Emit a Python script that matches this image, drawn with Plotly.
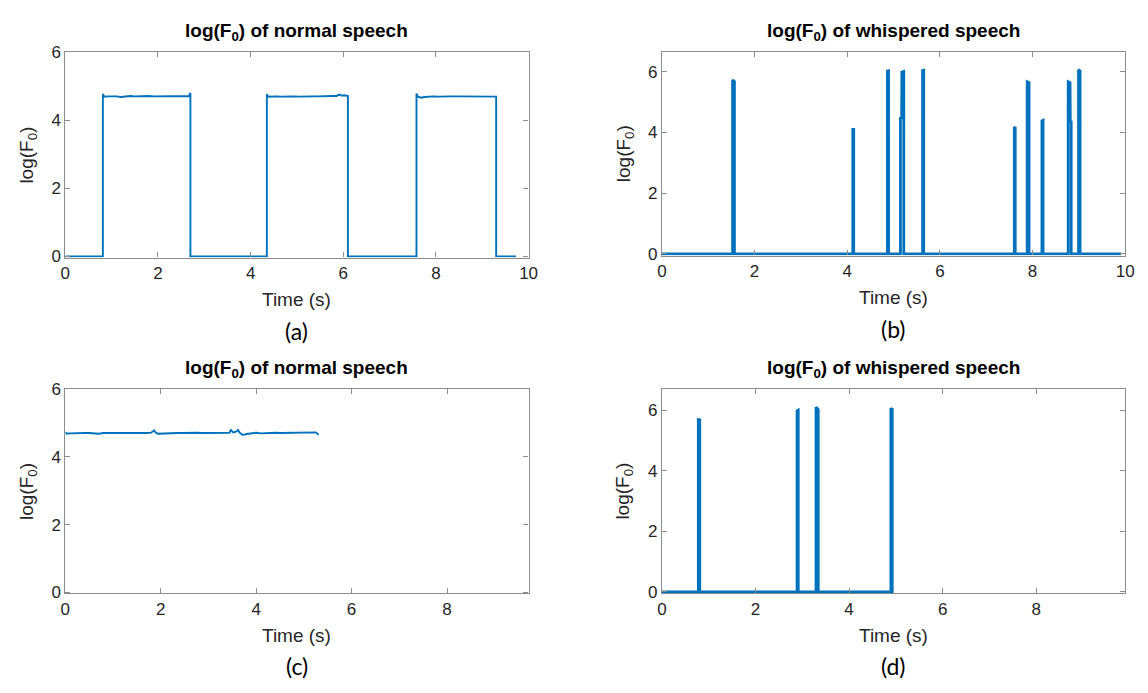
import plotly.graph_objects as go

# ---------------- data ----------------
# (a) normal speech, voiced segments
a_seg1_t = [0.81, 0.84, 0.90, 1.00, 1.10, 1.20, 1.30, 1.40, 1.50, 1.60, 1.70, 1.80, 1.90, 2.00, 2.10, 2.20, 2.30, 2.40, 2.50, 2.60, 2.67, 2.70]
a_seg1_v = [4.77, 4.69, 4.70, 4.71, 4.70, 4.68, 4.70, 4.71, 4.70, 4.71, 4.70, 4.71, 4.70, 4.70, 4.71, 4.70, 4.71, 4.71, 4.70, 4.71, 4.71, 4.80]
a_seg2_t = [4.35, 4.38, 4.45, 4.55, 4.65, 4.75, 4.85, 4.95, 5.05, 5.15, 5.25, 5.35, 5.45, 5.55, 5.65, 5.75, 5.85, 5.92, 5.96, 6.02, 6.10]
a_seg2_v = [4.76, 4.69, 4.70, 4.70, 4.69, 4.70, 4.71, 4.70, 4.69, 4.70, 4.71, 4.70, 4.70, 4.71, 4.70, 4.71, 4.71, 4.75, 4.72, 4.73, 4.71]
a_seg3_t = [7.58, 7.61, 7.68, 7.75, 7.85, 7.95, 8.05, 8.15, 8.25, 8.35, 8.45, 8.55, 8.65, 8.75, 8.85, 8.95, 9.05, 9.15, 9.22, 9.30]
a_seg3_v = [4.78, 4.69, 4.66, 4.68, 4.70, 4.70, 4.69, 4.70, 4.69, 4.70, 4.70, 4.70, 4.69, 4.70, 4.70, 4.71, 4.70, 4.70, 4.71, 4.69]
a_end = 9.73

# (b) whispered speech, voiced fragments
b_segs_t = [[1.525, 1.545, 1.565], [4.12, 4.14], [4.868, 4.892], [5.148, 5.175, 5.18, 5.22], [5.627, 5.651],
            [7.607, 7.627], [7.885, 7.925], [8.203, 8.228], [8.77, 8.81, 8.815, 8.835], [8.993, 9.027]]
b_segs_v = [[5.70, 5.71, 5.68], [4.10, 4.10], [6.02, 6.03], [4.47, 4.48, 5.99, 6.01], [6.04, 6.05],
            [4.15, 4.18], [5.67, 5.64], [4.38, 4.40], [5.67, 5.64, 4.36, 4.35], [6.07, 6.03]]
b_end = 9.91

# (c) normal speech (fully voiced)
c_t = [0.00, 0.03, 0.10, 0.20, 0.30, 0.40, 0.50, 0.60, 0.70, 0.80, 0.90, 1.00, 1.10, 1.20, 1.30, 1.40, 1.50,
       1.60, 1.70, 1.80, 1.86, 1.90, 1.95, 2.05, 2.15, 2.25, 2.35, 2.45, 2.55, 2.65, 2.75, 2.85, 2.95, 3.05,
       3.15, 3.25, 3.35, 3.44, 3.47, 3.52, 3.58, 3.62, 3.66, 3.72, 3.80, 3.90, 4.00, 4.10, 4.20, 4.30, 4.40,
       4.50, 4.60, 4.70, 4.80, 4.90, 5.00, 5.10, 5.20, 5.25, 5.31]
c_v = [4.73, 4.68, 4.69, 4.70, 4.71, 4.70, 4.70, 4.69, 4.68, 4.70, 4.71, 4.70, 4.70, 4.71, 4.70, 4.70, 4.71,
       4.70, 4.70, 4.71, 4.78, 4.70, 4.68, 4.69, 4.70, 4.71, 4.70, 4.70, 4.71, 4.70, 4.71, 4.70, 4.70, 4.71,
       4.70, 4.71, 4.72, 4.71, 4.79, 4.72, 4.74, 4.79, 4.70, 4.64, 4.67, 4.70, 4.71, 4.69, 4.70, 4.70, 4.71,
       4.70, 4.70, 4.71, 4.70, 4.71, 4.70, 4.71, 4.70, 4.72, 4.65]

# (d) whispered speech, voiced fragments
d_segs_t = [[0.778, 0.808], [2.888, 2.913], [3.293, 3.31, 3.325, 3.34], [4.893, 4.922]]
d_segs_v = [[5.69, 5.68], [5.98, 6.00], [6.10, 6.08, 6.04, 6.02], [6.06, 6.03]]
d_end = 4.95

titles = ["log(F<sub>0</sub>) of normal speech", "log(F<sub>0</sub>) of whispered speech",
          "log(F<sub>0</sub>) of normal speech", "log(F<sub>0</sub>) of whispered speech"]
panel_labels = ["(a)", "(b)", "(c)", "(d)"]
x_label = "Time (s)"
y_label = "log(F<sub>0</sub>)"
x_ranges = [[0, 10], [0, 10], [0, 9.71], [0, 9.9]]
y_ranges = [[0, 6], [0, 6.65], [0, 6], [0, 6.7]]


def assemble(segs_t, segs_v, t_end):
    xs, ys = [0.0], [0.0]
    for st, sv in zip(segs_t, segs_v):
        xs += [st[0]] + list(st) + [st[-1]]
        ys += [0.0] + list(sv) + [0.0]
    xs.append(t_end)
    ys.append(0.0)
    return xs, ys


a_x, a_y = assemble([a_seg1_t, a_seg2_t, a_seg3_t], [a_seg1_v, a_seg2_v, a_seg3_v], a_end)
b_x, b_y = assemble(b_segs_t, b_segs_v, b_end)
d_x, d_y = assemble(d_segs_t, d_segs_v, d_end)

series = [(a_x, a_y, 1.9), (b_x, b_y, 2.8), (c_t, c_v, 1.9), (d_x, d_y, 2.8)]

# ---------------- layout (pixel boxes in the 1148x693 page) ----------------
OFF = 8  # default page body margin
W, H = 1148 - OFF, 693 - OFF
boxes = [(61, 530, 44, 255), (665, 1134, 44, 253), (61, 530, 390, 600), (665, 1134, 390, 600)]
LINE = "#0072BD"
AXC = "#8c8c8c"
TXT = "#262626"
FONT = "Liberation Sans, Arial, sans-serif"


def px(xp):
    return (xp - OFF) / W


def py(yp):
    return 1 - (yp - OFF) / H


fig = go.Figure()
layout = dict(width=W, height=H, margin=dict(l=0, r=0, t=0, b=0), autosize=False,
              paper_bgcolor="white", plot_bgcolor="white", showlegend=False,
              font=dict(family=FONT, color=TXT, size=17))
annotations = []

for i, ((x, y, lw), (x0, x1, y0, y1)) in enumerate(zip(series, boxes)):
    n = "" if i == 0 else str(i + 1)
    fig.add_trace(go.Scatter(x=x, y=y, mode="lines", line=dict(color=LINE, width=lw),
                             xaxis="x" + n, yaxis="y" + n, hoverinfo="skip"))
    yr = y_ranges[i]
    pad = (yr[1] - yr[0]) / (y1 - y0) * (lw * 0.6)
    layout["xaxis" + n] = dict(domain=[px(x0), px(x1)], range=x_ranges[i], anchor="y" + n,
                               dtick=2, tick0=0, ticks="inside", ticklen=5, tickcolor=AXC,
                               showline=True, linecolor=AXC, linewidth=1.2, mirror="ticks",
                               showgrid=False, zeroline=False,
                               tickfont=dict(size=17, color=TXT, family=FONT))
    layout["yaxis" + n] = dict(domain=[py(y1), py(y0)], range=[yr[0] - pad, yr[1]], anchor="x" + n,
                               tickvals=[0, 2, 4, 6], ticks="inside", ticklen=5, tickcolor=AXC,
                               showline=True, linecolor=AXC, linewidth=1.2, mirror="ticks",
                               showgrid=False, zeroline=False,
                               tickfont=dict(size=17, color=TXT, family=FONT))
    cx = px((x0 + x1) / 2)
    annotations.append(dict(text="<b>" + titles[i] + "</b>", x=cx, y=py(y0 - 21),
                            xref="paper", yref="paper", showarrow=False, xanchor="center", yanchor="middle",
                            font=dict(size=19, color="#000000", family=FONT)))
    annotations.append(dict(text=x_label, x=cx, y=py(y1 + 43), xref="paper", yref="paper",
                            showarrow=False, xanchor="center", yanchor="middle",
                            font=dict(size=19, color=TXT, family=FONT)))
    annotations.append(dict(text=y_label, x=px(x0 - 38), y=py((y0 + y1) / 2), xref="paper", yref="paper",
                            showarrow=False, xanchor="center", yanchor="middle", textangle=-90,
                            font=dict(size=19, color=TXT, family=FONT)))
    annotations.append(dict(text=panel_labels[i], x=cx, y=py(y1 + 75), xref="paper", yref="paper",
                            showarrow=False, xanchor="center", yanchor="middle",
                            font=dict(size=23, color="#000000", family="Lato, Carlito, sans-serif")))

layout["annotations"] = annotations
fig.update_layout(**layout)
fig.write_html("out.html")
